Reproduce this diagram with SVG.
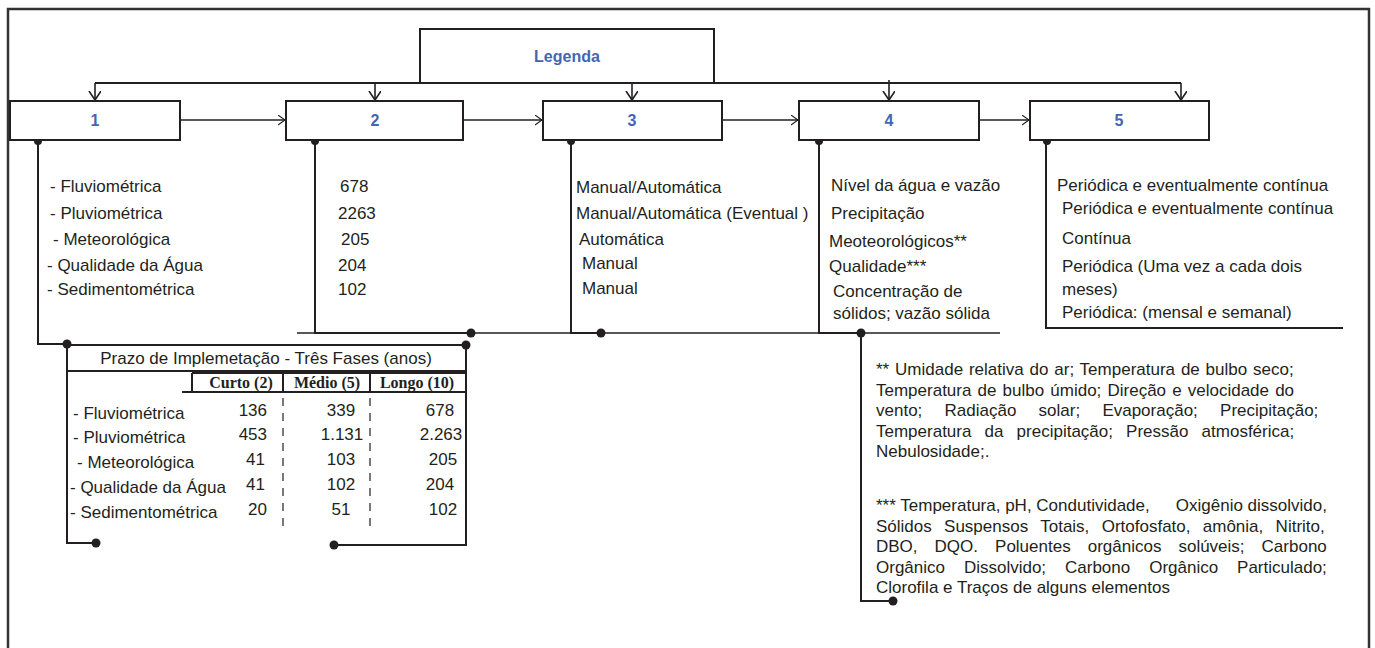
<svg xmlns="http://www.w3.org/2000/svg" width="1375" height="648" viewBox="0 0 1375 648">
<defs>
<marker id="ah" markerUnits="userSpaceOnUse" markerWidth="14" markerHeight="14" refX="9" refY="6" orient="auto"><path d="M0,0 L9,6 L0,12" fill="none" stroke="#231f20" stroke-width="1.6"/></marker>
<marker id="ahs" markerUnits="userSpaceOnUse" markerWidth="12" markerHeight="12" refX="7" refY="5" orient="auto"><path d="M0,0 L7,5 L0,10" fill="none" stroke="#231f20" stroke-width="1.1"/></marker>
</defs>
<style>
.t{font-family:"Liberation Sans",Arial,sans-serif;font-size:17px;fill:#231f20}
.lb{font-family:"Liberation Sans",Arial,sans-serif;font-size:16px;font-weight:bold;fill:#4466b0;text-anchor:middle}
.box{fill:#fff;stroke:#231f20;stroke-width:2}
.ln{fill:none;stroke:#231f20;stroke-width:2}
.thin{fill:none;stroke:#231f20;stroke-width:1.3}
.arr{fill:none;stroke:#231f20;stroke-width:1.6}
.dot{fill:#231f20}
.th{font-family:"Liberation Serif","Times New Roman",serif;font-weight:bold;font-size:16px;fill:#231f20;text-anchor:middle}
.m{text-anchor:middle}
.e{text-anchor:end}
.dash{fill:none;stroke:#231f20;stroke-width:1.2;stroke-dasharray:8,7}
</style>
<rect x="0" y="0" width="1375" height="648" fill="#fff"/>
<rect x="8" y="9" width="1361" height="670" fill="#fff" stroke="#333" stroke-width="2.5"/>

<g id="connectors">
<path class="ln" d="M95,83 H1181"/>
<path class="arr" d="M95,83 V100" marker-end="url(#ah)"/>
<path class="arr" d="M375,83 V100" marker-end="url(#ah)"/>
<path class="arr" d="M632,80 V100" marker-end="url(#ah)"/>
<path class="arr" d="M889,80 V100" marker-end="url(#ah)"/>
<path class="arr" d="M1181,83 V100" marker-end="url(#ah)"/>
<path class="thin" d="M180,120 H285" marker-end="url(#ahs)"/>
<path class="thin" d="M463,120 H542" marker-end="url(#ahs)"/>
<path class="thin" d="M722,120 H798" marker-end="url(#ahs)"/>
<path class="thin" d="M979,120 H1029" marker-end="url(#ahs)"/>
<path class="thin" d="M297,333 H1000"/>
<path class="ln" d="M38,141 V344 H67"/>
<path class="ln" d="M315,141 V333 H471"/>
<path class="ln" d="M571,141 V333 H601"/>
<path class="ln" d="M819,141 V333 H861"/>
<path class="ln" d="M861,333 V601 H893"/>
<path class="ln" d="M1046,141 V328 H1343"/>
<circle class="dot" cx="38" cy="141" r="4"/>
<circle class="dot" cx="315" cy="141" r="4"/>
<circle class="dot" cx="571" cy="141" r="4"/>
<circle class="dot" cx="819" cy="141" r="4"/>
<circle class="dot" cx="1047" cy="141" r="4"/>
<circle class="dot" cx="67" cy="344" r="4.5"/>
<circle class="dot" cx="471" cy="333" r="4.5"/>
<circle class="dot" cx="601" cy="333" r="4.5"/>
<circle class="dot" cx="861" cy="333" r="4.5"/>
<circle class="dot" cx="893" cy="601" r="4.5"/>
</g>

<g id="legenda">
<rect class="box" x="420" y="29" width="294" height="54"/>
<text class="lb" x="567" y="62">Legenda</text>
</g>

<g id="node1">
<rect class="box" x="10" y="101" width="170" height="39"/>
<text class="lb" x="95" y="126">1</text>
<text class="t" x="50" y="192">- Fluviométrica</text>
<text class="t" x="50" y="219">- Pluviométrica</text>
<text class="t" x="53" y="245">- Meteorológica</text>
<text class="t" x="47" y="271">- Qualidade da Água</text>
<text class="t" x="47" y="295">- Sedimentométrica</text>
</g>

<g id="node2">
<rect class="box" x="286" y="101" width="177" height="39"/>
<text class="lb" x="375" y="126">2</text>
<text class="t" x="340" y="192">678</text>
<text class="t" x="338" y="219">2263</text>
<text class="t" x="341" y="245">205</text>
<text class="t" x="338" y="271">204</text>
<text class="t" x="338" y="295">102</text>
</g>

<g id="node3">
<rect class="box" x="543" y="101" width="179" height="39"/>
<text class="lb" x="632" y="126">3</text>
<text class="t" x="576" y="193">Manual/Automática</text>
<text class="t" x="576" y="219">Manual/Automática (Eventual )</text>
<text class="t" x="579" y="245">Automática</text>
<text class="t" x="582" y="269">Manual</text>
<text class="t" x="582" y="294">Manual</text>
</g>

<g id="node4">
<rect class="box" x="799" y="101" width="180" height="39"/>
<text class="lb" x="889" y="126">4</text>
<text class="t" x="831" y="191">Nível da água e vazão</text>
<text class="t" x="831" y="219">Precipitação</text>
<text class="t" x="829" y="247">Meoteorológicos**</text>
<text class="t" x="829" y="272">Qualidade***</text>
<text class="t" x="833" y="297">Concentração de</text>
<text class="t" x="833" y="319">sólidos; vazão sólida</text>
</g>

<g id="node5">
<rect class="box" x="1030" y="101" width="179" height="39"/>
<text class="lb" x="1119" y="126">5</text>
<text class="t" x="1057" y="191">Periódica e eventualmente contínua</text>
<text class="t" x="1062" y="214">Periódica e eventualmente contínua</text>
<text class="t" x="1062" y="244">Contínua</text>
<text class="t" x="1062" y="272">Periódica (Uma vez a cada dois</text>
<text class="t" x="1062" y="295">meses)</text>
<text class="t" x="1062" y="318">Periódica: (mensal e semanal)</text>
</g>

<g id="table">
<path class="ln" d="M67,345 H466"/>
<path class="ln" d="M67,345 V543 H96"/>
<path class="ln" d="M466,345 V545 H334"/>
<path class="ln" d="M67,371 H466"/>
<circle class="dot" cx="466" cy="345" r="4.5"/>
<circle class="dot" cx="96" cy="543" r="4.5"/>
<circle class="dot" cx="334" cy="545" r="4.5"/>
<text class="t m" x="266" y="364">Prazo de Implemetação - Três Fases (anos)</text>
<path class="ln" d="M192,373 H466 M192,373 V392 M283,373 V392 M370,373 V392 M182,392 H466"/>
<text class="th" x="241" y="388">Curto (2)</text>
<text class="th" x="327" y="388">Médio (5)</text>
<text class="th" x="417" y="388">Longo (10)</text>
<path class="dash" d="M283,398 V527 M370,398 V527"/>
<text class="t" x="73" y="419">- Fluviométrica</text>
<text class="t" x="73" y="443">- Pluviométrica</text>
<text class="t" x="77" y="468">- Meteorológica</text>
<text class="t" x="70" y="493">- Qualidade da Água</text>
<text class="t" x="70" y="518">- Sedimentométrica</text>
<text class="t e" x="267" y="416">136</text>
<text class="t e" x="267" y="440">453</text>
<text class="t e" x="265" y="465">41</text>
<text class="t e" x="265" y="490">41</text>
<text class="t e" x="267" y="515">20</text>
<text class="t m" x="341" y="416">339</text>
<text class="t m" x="342" y="440">1.131</text>
<text class="t m" x="341" y="465">103</text>
<text class="t m" x="341" y="490">102</text>
<text class="t m" x="341" y="515">51</text>
<text class="t m" x="440" y="416">678</text>
<text class="t m" x="441" y="440">2.263</text>
<text class="t m" x="443" y="465">205</text>
<text class="t m" x="440" y="490">204</text>
<text class="t m" x="443" y="515">102</text>
</g>

<g id="notes">
<text class="t" x="876" y="375" word-spacing="1.1">** Umidade relativa do ar; Temperatura de bulbo seco;</text>
<text class="t" x="876" y="395.5" word-spacing="1.4">Temperatura de bulbo úmido; Direção e velocidade do</text>
<text class="t" x="876" y="416" word-spacing="17.5">vento; Radiação solar; Evaporação; Precipitação;</text>
<text class="t" x="876" y="436.5" word-spacing="8.4">Temperatura da precipitação; Pressão atmosférica;</text>
<text class="t" x="876" y="457">Nebulosidade;.</text>
<text class="t" x="876" y="511">*** Temperatura, pH, Condutividade,</text>
<text class="t e" x="1327" y="511">Oxigênio dissolvido,</text>
<text class="t" x="876" y="531.5" word-spacing="7.6">Sólidos Suspensos Totais, Ortofosfato, amônia, Nitrito,</text>
<text class="t" x="876" y="552" word-spacing="12.3">DBO, DQO. Poluentes orgânicos solúveis; Carbono</text>
<text class="t" x="876" y="572.5" word-spacing="14.2">Orgânico Dissolvido; Carbono Orgânico Particulado;</text>
<text class="t" x="876" y="593">Clorofila e Traços de alguns elementos</text>
</g>
</svg>
